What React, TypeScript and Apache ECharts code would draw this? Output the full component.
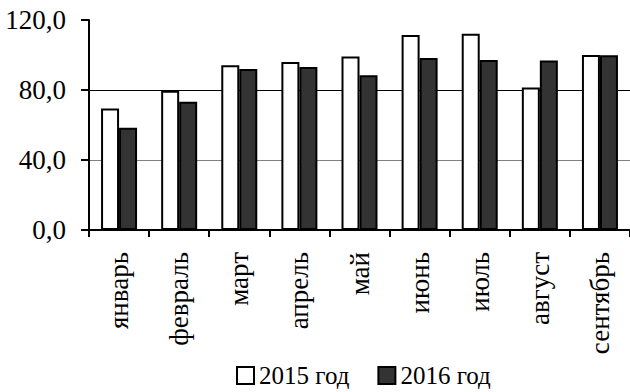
import React, { useEffect, useRef } from "react";
import * as echarts from "echarts";

// Monthly values for two years
const months = ["январь", "февраль", "март", "апрель", "май", "июнь", "июль", "август", "сентябрь"];
const values2015 = [69.5, 79.6, 94.1, 96.0, 99.2, 111.4, 112.2, 81.5, 100.0];
const values2016 = [58.5, 73.3, 92.0, 93.1, 88.4, 98.3, 97.1, 96.8, 99.8];
const seriesNames = ["2015 год", "2016 год"];

const FONT = "Liberation Serif";

export default function App() {
  const ref = useRef<HTMLDivElement>(null);

  useEffect(() => {
    if (!ref.current) return;
    const chart = echarts.init(ref.current, null, { renderer: "svg" });
    chart.setOption({
      animation: false,
      backgroundColor: "#ffffff",
      textStyle: { fontFamily: FONT },
      grid: { left: 89, top: 20, width: 543, height: 210, containLabel: false },
      legend: {
        data: [
          { name: seriesNames[0], itemStyle: { color: "#ffffff", borderColor: "#000", borderWidth: 2 } },
          { name: seriesNames[1], itemStyle: { color: "#333333", borderColor: "#000", borderWidth: 2 } },
        ],
        top: 358,
        left: 231,
        icon: "rect",
        itemWidth: 17,
        itemHeight: 17,
        itemGap: 28,
        textStyle: { fontFamily: FONT, fontSize: 25, color: "#000" },
      },
      xAxis: {
        type: "category",
        data: months,
        boundaryGap: true,
        axisLine: { lineStyle: { color: "#000", width: 2 } },
        axisTick: { show: true, length: 7, lineStyle: { color: "#000", width: 2 } },
        axisLabel: {
          rotate: 90,
          margin: 22,
          fontFamily: FONT,
          fontSize: 27,
          color: "#000",
        },
      },
      yAxis: {
        type: "value",
        min: 0,
        max: 120,
        interval: 40,
        axisLine: { show: true, lineStyle: { color: "#000", width: 2 } },
        axisTick: { show: true, length: 8, lineStyle: { color: "#000", width: 2 } },
        axisLabel: {
          margin: 23,
          fontFamily: FONT,
          fontSize: 27,
          color: "#000",
          formatter: (v: number) => v.toFixed(1).replace(".", ","),
        },
        splitLine: {
          show: true,
          lineStyle: { color: ["#000", "#808080", "#000", "rgba(0,0,0,0)"], width: 1 },
        },
      },
      series: [
        {
          name: seriesNames[0],
          type: "bar",
          data: values2015,
          barWidth: 18,
          barGap: "0%",
          itemStyle: { color: "#ffffff", borderColor: "#000", borderWidth: 2 },
        },
        {
          name: seriesNames[1],
          type: "bar",
          data: values2016,
          barWidth: 18,
          itemStyle: { color: "#333333", borderColor: "#000", borderWidth: 2 },
        },
      ],
    });
    return () => chart.dispose();
  }, []);

  return <div ref={ref} style={{ width: 630, height: 392, position: "absolute", left: 0, top: 0 }} />;
}
